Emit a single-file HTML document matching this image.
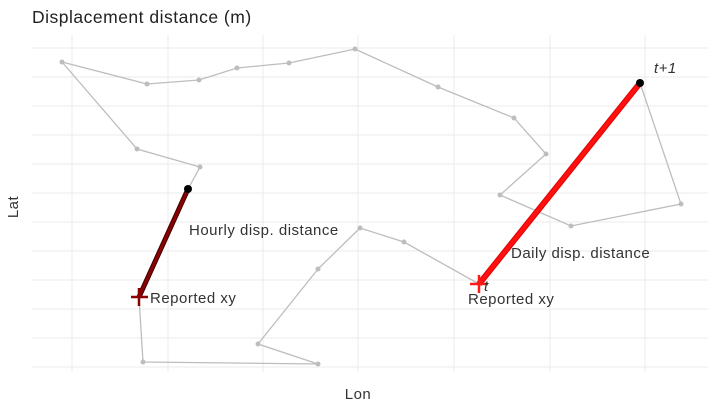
<!DOCTYPE html>
<html><head><meta charset="utf-8"><style>
body{margin:0;background:#fff;}
svg{display:block;font-family:"Liberation Sans",sans-serif;}
</style></head><body>
<svg width="720" height="411" viewBox="0 0 720 411" xmlns="http://www.w3.org/2000/svg">
<rect width="720" height="411" fill="#fff"/>
<g stroke="#ebebeb" stroke-width="1">
<line x1="32" x2="708" y1="48" y2="48"/><line x1="32" x2="708" y1="77" y2="77"/>
<line x1="32" x2="708" y1="106" y2="106"/><line x1="32" x2="708" y1="135" y2="135"/>
<line x1="32" x2="708" y1="164" y2="164"/><line x1="32" x2="708" y1="193" y2="193"/>
<line x1="32" x2="708" y1="222" y2="222"/><line x1="32" x2="708" y1="251" y2="251"/>
<line x1="32" x2="708" y1="280" y2="280"/><line x1="32" x2="708" y1="309" y2="309"/>
<line x1="32" x2="708" y1="338" y2="338"/><line x1="32" x2="708" y1="367" y2="367"/>
<line y1="35" y2="372" x1="72" x2="72"/><line y1="35" y2="372" x1="168" x2="168"/>
<line y1="35" y2="372" x1="263" x2="263"/><line y1="35" y2="372" x1="358" x2="358"/>
<line y1="35" y2="372" x1="454" x2="454"/><line y1="35" y2="372" x1="550" x2="550"/>
<line y1="35" y2="372" x1="645" x2="645"/>
</g>
<g fill="none" stroke="#bdbdbd" stroke-width="1.3">
<polyline points="62,62 147,84 199,80 237,68 289,63 355,49 438,87 514,118 546,154 500,195 571,226 681,204 640,83"/>
<polyline points="62,62 137,149 200,167 188,189"/>
<polyline points="139,297 143,362 318,364 258,344 318,269 360,228 404,242 479,284"/>
</g>
<g fill="#bdbdbd">
<circle cx="62" cy="62" r="2.5"/><circle cx="147" cy="84" r="2.5"/><circle cx="199" cy="80" r="2.5"/><circle cx="237" cy="68" r="2.5"/><circle cx="289" cy="63" r="2.5"/><circle cx="355" cy="49" r="2.5"/><circle cx="438" cy="87" r="2.5"/><circle cx="514" cy="118" r="2.5"/><circle cx="546" cy="154" r="2.5"/><circle cx="500" cy="195" r="2.5"/><circle cx="571" cy="226" r="2.5"/><circle cx="681" cy="204" r="2.5"/><circle cx="137" cy="149" r="2.5"/><circle cx="200" cy="167" r="2.5"/><circle cx="143" cy="362" r="2.5"/><circle cx="318" cy="364" r="2.5"/><circle cx="258" cy="344" r="2.5"/><circle cx="318" cy="269" r="2.5"/><circle cx="360" cy="228" r="2.5"/><circle cx="404" cy="242" r="2.5"/>
</g>
<line x1="188" y1="189" x2="139" y2="297" stroke="#3a0000" stroke-width="5"/>
<line x1="188" y1="189" x2="139" y2="297" stroke="#8b0000" stroke-width="3"/>
<line x1="479" y1="284" x2="640" y2="83" stroke="#e00000" stroke-width="6"/>
<line x1="479" y1="284" x2="640" y2="83" stroke="#ff1010" stroke-width="4"/>
<circle cx="188" cy="189" r="4" fill="#000"/>
<circle cx="640" cy="83" r="4" fill="#000"/>
<g stroke="#8b0000" stroke-width="2.5"><line x1="131" x2="148" y1="297" y2="297"/><line x1="139" x2="139" y1="288" y2="306"/></g>
<g stroke="#ff1a1a" stroke-width="2.5"><line x1="470" x2="488" y1="284" y2="284"/><line x1="479" x2="479" y1="275" y2="293"/></g>
<g fill="#333" font-size="15" letter-spacing="0.5">
<text x="150" y="303">Reported xy</text>
<text x="189" y="235">Hourly disp. distance</text>
<text x="511" y="258">Daily disp. distance</text>
<text x="468" y="304">Reported xy</text>
<text x="484" y="291" font-style="italic">t</text>
<text x="654" y="73" font-style="italic">t+1</text>
<text x="358" y="399" text-anchor="middle">Lon</text>
<text transform="translate(18,207) rotate(-90)" text-anchor="middle">Lat</text>
</g>
<text x="32" y="23" font-size="17.5" letter-spacing="0.5" fill="#222">Displacement distance (m)</text>
</svg>
</body></html>
